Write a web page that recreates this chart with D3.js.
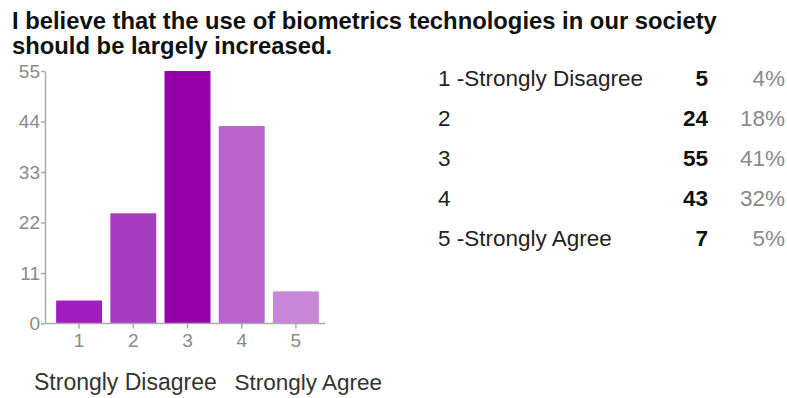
<!DOCTYPE html>
<html><head><meta charset="utf-8">
<script src="https://cdn.jsdelivr.net/npm/d3@7"></script>
<style>
html,body{margin:0;padding:0;background:#fff;}
svg{display:block;font-family:"Liberation Sans",Arial,sans-serif;}
</style></head>
<body>
<svg id="chart" width="787" height="398"></svg>
<script>
const titleLines = ["I believe that the use of biometrics technologies in our society", "should be largely increased."];
const categories = ["1", "2", "3", "4", "5"];
const counts = [5, 24, 55, 43, 7];
const percents = ["4%", "18%", "41%", "32%", "5%"];
const legendLabels = ["1 -Strongly Disagree", "2", "3", "4", "5 -Strongly Agree"];
const yTicks = [0, 11, 22, 33, 44, 55];
const barColors = ["#a11cc0", "#a83cc0", "#9600aa", "#ba62cc", "#c986d9"];
const endLabels = ["Strongly Disagree", "Strongly Agree"];

const svg = d3.select("#chart");

// Title
svg.append("g").selectAll("text").data(titleLines).join("text")
  .attr("x", 12).attr("y", (d, i) => 28.5 + i * 25)
  .style("font-size", "23.8px").attr("font-weight", "bold").attr("fill", "#111")
  .text(d => d);

// Scales
const x = d3.scaleBand().domain(categories).range([48, 327]).paddingInner(0.152).paddingOuter(0.15);
const y = d3.scaleLinear().domain([0, 55]).range([323.5, 71]);
const axisColor = "#aaa";

// Bars
svg.append("g").selectAll("rect").data(counts).join("rect")
  .attr("x", (d, i) => x(categories[i]))
  .attr("y", d => y(d))
  .attr("width", x.bandwidth())
  .attr("height", d => y(0) - y(d))
  .attr("fill", (d, i) => barColors[i]);

// Y axis
const yAxis = svg.append("g").attr("transform", "translate(45,0)")
  .call(d3.axisLeft(y).tickValues(yTicks).tickSize(4).tickSizeOuter(0).tickPadding(1));
yAxis.attr("font-size", null).attr("font-family", null);
yAxis.select(".domain").attr("stroke", axisColor).attr("stroke-width", 1.5);
yAxis.selectAll(".tick line").attr("stroke", axisColor).attr("stroke-width", 1.5);
yAxis.selectAll(".tick text").style("font-size", "19px").attr("fill", "#8a8a8a");

// X axis
const xAxis = svg.append("g").attr("transform", `translate(0,${y(0)})`)
  .call(d3.axisBottom(x).tickSize(5).tickSizeOuter(0).tickPadding(5));
xAxis.attr("font-size", null).attr("font-family", null);
xAxis.select(".domain").remove();
xAxis.append("line").attr("x1", 45).attr("x2", 325).attr("y1", 0).attr("y2", 0)
  .attr("stroke", axisColor).attr("stroke-width", 1.5);
xAxis.selectAll(".tick line").attr("stroke", axisColor).attr("stroke-width", 1.5);
xAxis.selectAll(".tick text").style("font-size", "19px").attr("fill", "#8a8a8a");

// End labels
svg.append("text").attr("x", 34).attr("y", 390).style("font-size", "23px").attr("fill", "#333").text(endLabels[0]);
svg.append("text").attr("x", 382).attr("y", 390).attr("text-anchor", "end").style("font-size", "22.5px").attr("fill", "#333").text(endLabels[1]);

// Legend table
const rowY = d3.scalePoint().domain(categories).range([86, 246]);
const rows = svg.append("g").selectAll("g").data(categories).join("g")
  .attr("transform", d => `translate(0,${rowY(d)})`);
rows.append("text").attr("x", 438).style("font-size", "22.5px").attr("fill", "#222").text((d, i) => legendLabels[i]);
rows.append("text").attr("x", 708).attr("text-anchor", "end").style("font-size", "22.5px").attr("font-weight", "bold").attr("fill", "#111").text((d, i) => counts[i]);
rows.append("text").attr("x", 785).attr("text-anchor", "end").style("font-size", "22.5px").attr("fill", "#8a8a8a").text((d, i) => percents[i]);
</script>
</body></html>
